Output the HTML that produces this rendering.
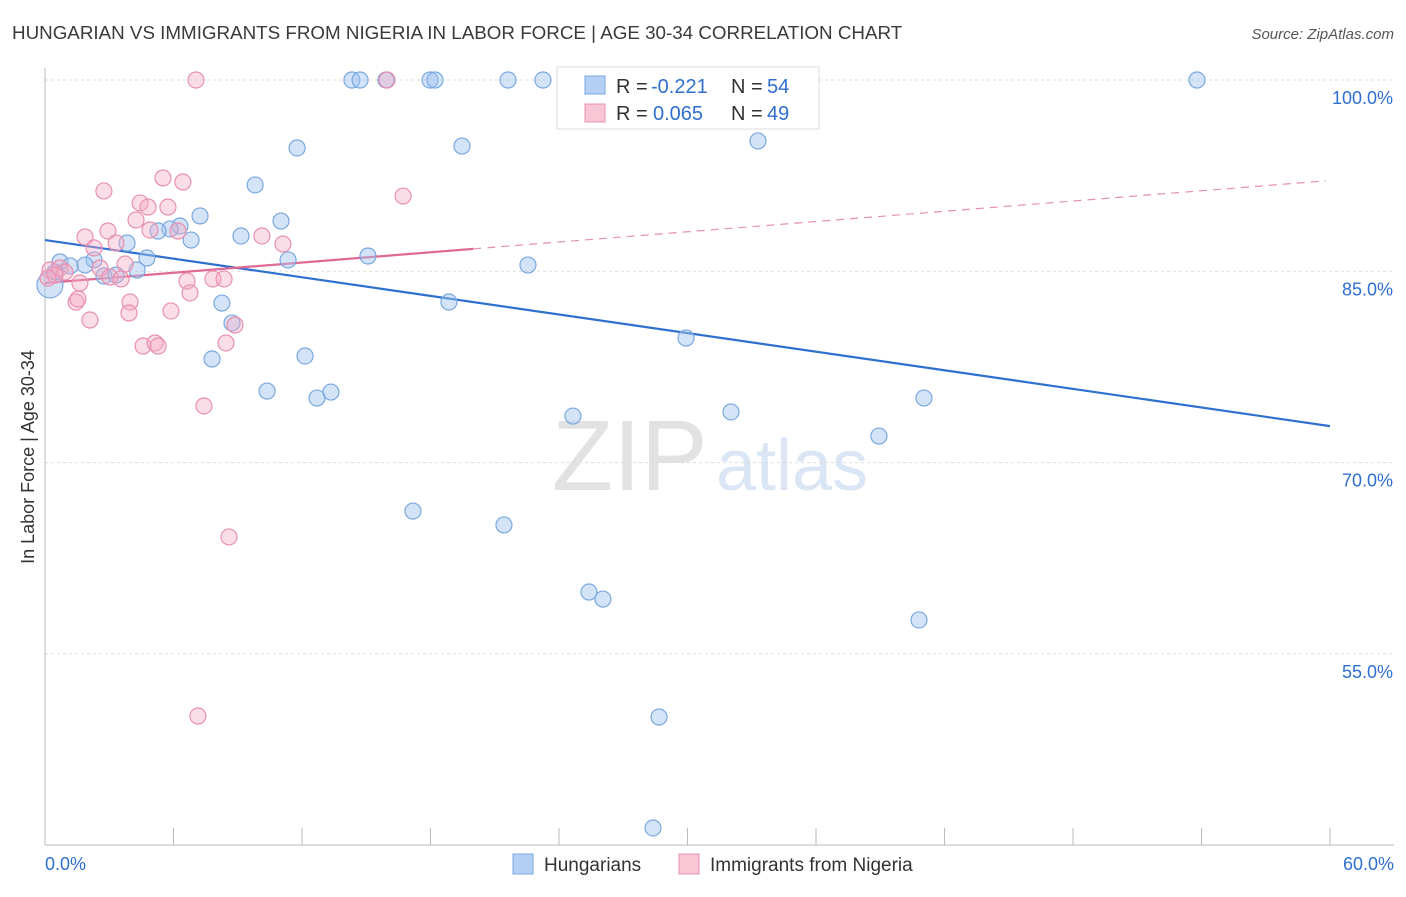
<!DOCTYPE html>
<html><head><meta charset="utf-8"><style>
body{margin:0;background:#fff;font-family:"Liberation Sans",sans-serif}
svg text{font-family:"Liberation Sans",sans-serif}
</style></head><body>
<svg id="chart" width="1406" height="892" xmlns="http://www.w3.org/2000/svg">
<text x="12" y="39" font-size="18.8" fill="#3a3a3a">HUNGARIAN VS IMMIGRANTS FROM NIGERIA IN LABOR FORCE | AGE 30-34 CORRELATION CHART</text>
<text x="1394" y="39" font-size="15" fill="#555" text-anchor="end" font-style="italic">Source: ZipAtlas.com</text>
<g><text x="552" y="490" font-size="100" fill="#e2e2e2" font-family="Liberation Serif">ZIP</text><text x="716" y="490" font-size="72" fill="#dbe6f5">atlas</text></g>
<text transform="translate(34,457) rotate(-90)" font-size="18" fill="#333" text-anchor="middle">In Labor Force | Age 30-34</text>
<g id="grid"></g><g id="axes"></g><g id="trends"></g><g id="pts"></g>
<g>
<rect x="557" y="67" width="262" height="62" fill="#fff" stroke="#ddd"/>
<rect x="585" y="76" width="20" height="18" fill="#b6d0f5" stroke="#7aa7e0"/>
<text x="616" y="93" font-size="20" fill="#333">R =</text>
<text x="651" y="93" font-size="20" fill="#2f6fd0">-0.221</text>
<text x="731" y="93" font-size="20" fill="#333">N =</text>
<text x="767" y="93" font-size="20" fill="#2f6fd0">54</text>
<rect x="585" y="104" width="20" height="18" fill="#f9c6d6" stroke="#e890b0"/>
<text x="616" y="120" font-size="20" fill="#333">R =</text>
<text x="653" y="120" font-size="20" fill="#2f6fd0">0.065</text>
<text x="731" y="120" font-size="20" fill="#333">N =</text>
<text x="767" y="120" font-size="20" fill="#2f6fd0">49</text>
</g>
<g>
<rect x="513" y="854" width="20" height="20" fill="#b6d0f5" stroke="#7aa7e0"/>
<text x="544" y="871" font-size="19" fill="#333">Hungarians</text>
<rect x="679" y="854" width="20" height="20" fill="#f9c6d6" stroke="#e890b0"/>
<text x="710" y="871" font-size="19" fill="#333">Immigrants from Nigeria</text>
</g>
</svg>
<script>
const yTicks=[100,85,70,55];
const yTickLabels=["100.0%","85.0%","70.0%","55.0%"];
const xTickVals=[0,6,12,18,24,30,36,42,48,54,60];
const blueX=[14.33,14.71,15.92,17.98,18.21,21.62,23.25,26.71,53.79,11.77,19.47,33.29,9.81,7.24,11.02,6.30,5.84,5.28,6.82,9.15,3.83,11.35,15.08,4.76,2.29,0.70,1.87,1.17,4.30,2.75,3.32,22.55,18.86,8.26,8.73,29.93,12.14,7.80,10.37,13.35,12.70,41.04,24.65,32.03,38.94,17.18,21.43,25.40,26.05,40.81,28.67,28.39,0.23,0.47];
const blueY=[100,100,100,100,100,100,100,100,100,94.67,94.82,95.22,91.77,89.34,88.94,88.55,88.32,88.16,87.45,87.77,87.22,85.89,86.20,86.04,85.89,85.73,85.49,85.42,85.10,84.63,84.71,85.49,82.59,82.51,80.95,79.77,78.36,78.12,75.61,75.53,75.06,75.06,73.65,73.97,72.08,66.20,65.11,59.85,59.30,57.66,50.05,41.35,83.93,84.94];
const pinkX=[7.05,15.97,2.75,5.51,6.44,16.72,4.44,4.81,5.74,4.25,2.94,1.87,4.90,6.21,10.13,3.32,11.11,2.29,3.74,2.57,0.23,0.70,0.93,1.63,3.03,3.55,6.63,7.84,8.36,3.97,1.45,1.54,5.88,6.77,3.92,2.10,8.87,4.58,5.14,5.28,8.45,7.42,8.59,7.14,0.47,0.14];
const pinkY=[100,100,91.30,92.32,92.00,90.90,90.36,90.04,90.04,89.02,88.16,87.69,88.24,88.16,87.77,87.22,87.14,86.83,85.57,85.26,85.10,85.26,84.94,84.08,84.55,84.40,84.24,84.40,84.40,82.59,82.59,82.83,81.89,83.30,81.73,81.18,80.79,79.14,79.38,79.14,79.38,74.44,64.17,50.13,84.71,84.47];
const blueTrend=[87.45,72.86];
const pinkTrend=[84.08,92.12];
const pinkSolidEnd=20;
const NS="http://www.w3.org/2000/svg";
const X=v=>45+v*(1285/60);
const Y=v=>80+(100-v)*12.753;
function mk(tag,attrs,parent){const e=document.createElementNS(NS,tag);for(const k in attrs)e.setAttribute(k,attrs[k]);document.getElementById(parent).appendChild(e);return e;}
yTicks.forEach((t,i)=>{
 const l=mk('line',{x1:45,x2:1394,y1:Y(t),y2:Y(t),stroke:'#ddd','stroke-dasharray':'3,3'},'grid');
 
 
 const tx=mk('text',{x:1393,y:Y(t)+24,'font-size':18,fill:'#2f6fd0','text-anchor':'end'},'grid');
 tx.textContent=yTickLabels[i];
 
 
});
const ax=mk('line',{x1:45,x2:45,y1:68,y2:845,stroke:'#bbb'},'axes');


const bx=mk('line',{x1:45,x2:1394,y1:845,y2:845,stroke:'#bbb'},'axes');


xTickVals.forEach(t=>{
 const l=mk('line',{x1:X(t),x2:X(t),y1:828,y2:845,stroke:'#bbb'},'axes');
 
 
});
[[0,"0.0%","start",45],[60,"60.0%","end",1394]].forEach(a=>{
 const t=mk('text',{x:a[3],y:870,'font-size':18,fill:'#2f6fd0','text-anchor':a[2]},'axes');
 t.textContent=a[1];
 
 
});
function pts(xs,ys,fill,stroke,name){xs.forEach((x,i)=>{
 const c=mk('circle',{cx:X(x),cy:Y(ys[i]),r:(i==xs.length-2&&name=='hungarian-point')?13:8,fill:fill,stroke:stroke,'stroke-width':1.2},'pts');
 
 
});}
pts(blueX,blueY,'rgba(160,195,240,0.45)','#7aa7e0','hungarian-point');
pts(pinkX,pinkY,'rgba(245,170,195,0.4)','#e890b0','nigeria-point');
const bt=mk('line',{x1:X(0),y1:Y(blueTrend[0]),x2:X(60),y2:Y(blueTrend[1]),stroke:'#2f6fd0','stroke-width':2.2},'trends');


const pAt=v=>pinkTrend[0]+(pinkTrend[1]-pinkTrend[0])*v/60;
const ps=mk('line',{x1:X(0),y1:Y(pinkTrend[0]),x2:X(pinkSolidEnd),y2:Y(pAt(pinkSolidEnd)),stroke:'#e06a94','stroke-width':2.2},'trends');


const pd=mk('line',{x1:X(pinkSolidEnd),y1:Y(pAt(pinkSolidEnd)),x2:X(59.8),y2:Y(pAt(59.8)),stroke:'#e890b0','stroke-width':1.2,'stroke-dasharray':'8,6'},'trends');


</script>
</body></html>
